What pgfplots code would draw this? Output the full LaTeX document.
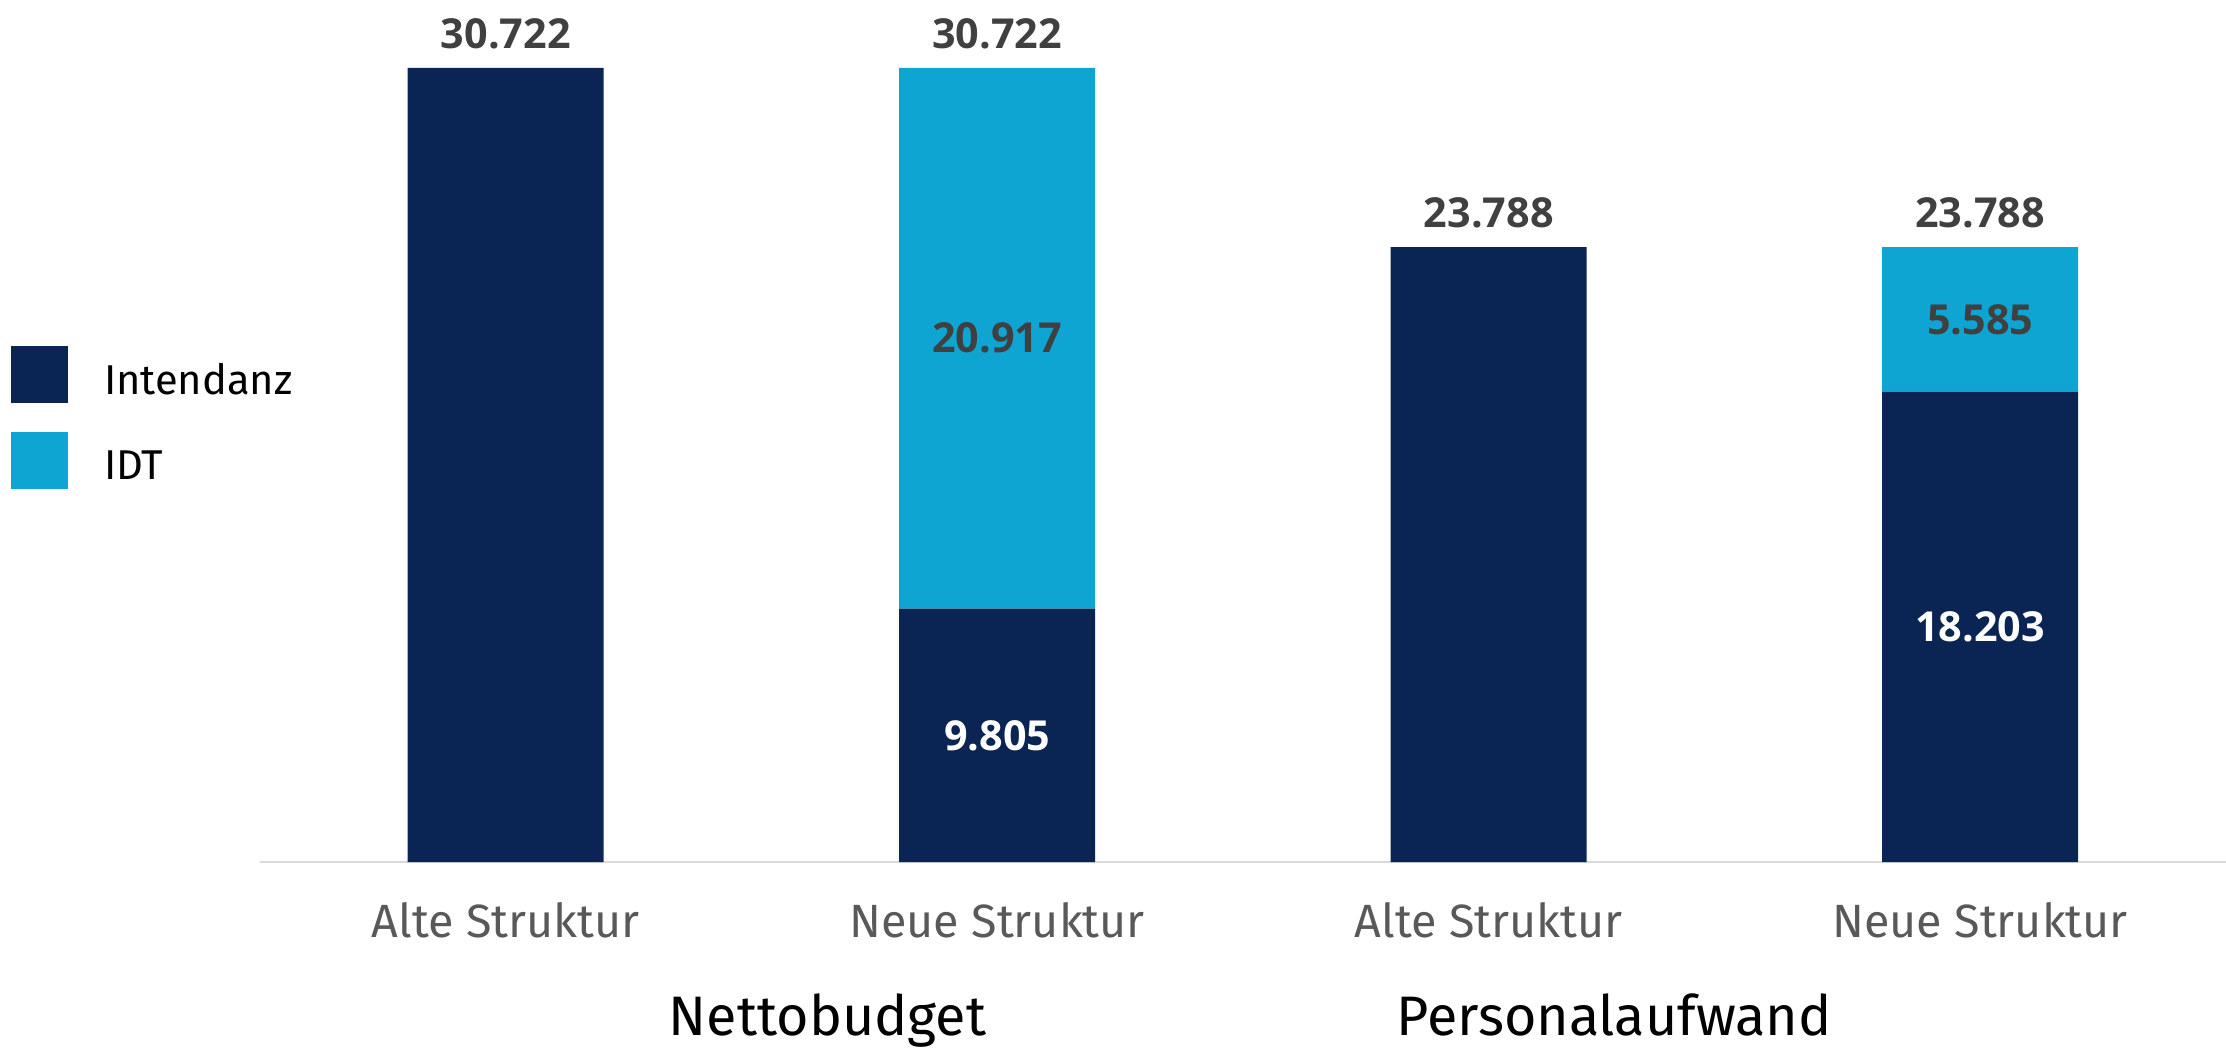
\documentclass[border=0pt]{standalone}
\usepackage{fontspec}
\setmainfont{Fira Sans}
\newfontfamily\numfont{Open Sans}
\usepackage{pgfplots}
\pgfplotsset{compat=1.18}
\definecolor{navy}{HTML}{0A2453}
\definecolor{cyanb}{HTML}{0EA5D3}
\definecolor{valgray}{HTML}{404040}
\definecolor{tickgray}{HTML}{595959}
\definecolor{axgray}{HTML}{D9D9D9}
\begin{document}
\begin{tikzpicture}
\useasboundingbox (-78pt,-55.8pt) rectangle (589.8pt,258.6pt);
\begin{axis}[
 at={(0,0)}, anchor=south west, scale only axis, width=589.8pt, height=258.6pt,
 ybar stacked, bar width=58.8pt,
 xmin=-0.5, xmax=3.5, ymin=0, ymax=33.35,
 axis x line=bottom, axis y line=none, axis line style={axgray, line width=0.6pt, -},
 xtick={0,1,2,3}, xticklabels={Alte Struktur, Neue Struktur, Alte Struktur, Neue Struktur},
 major tick length=0pt, ytick=\empty,
 xticklabel style={font=\fontsize{14}{17}\selectfont, text=tickgray, anchor=base, yshift=-22.5pt},
 clip=false,
 legend style={at={(-0.12665,0.5986)}, anchor=north west, draw=none, fill=none, inner sep=0pt, outer sep=0pt, row sep=8.6pt, column sep=10.8pt, font=\fontsize{12.5}{15}\selectfont, nodes={inner sep=0pt}},
 legend cell align=left,
 legend image code/.code={\fill[#1] (0pt,-6.35pt) rectangle (17.1pt,10.75pt);},
]
\addplot[fill=navy, draw=none] coordinates {(0,30.722) (1,9.805) (2,23.788) (3,18.203)};
\addlegendentry{Intendanz}
\addplot[fill=cyanb, draw=none] coordinates {(0,0) (1,20.917) (2,0) (3,5.585)};
\addlegendentry{IDT}
\coordinate (t0) at (axis cs:0,30.722);
\coordinate (t1) at (axis cs:1,30.722);
\coordinate (t2) at (axis cs:2,23.788);
\coordinate (t3) at (axis cs:3,23.788);
\coordinate (m1a) at (axis cs:1,4.9025);
\coordinate (m1b) at (axis cs:1,20.2635);
\coordinate (m3a) at (axis cs:3,9.1015);
\coordinate (m3b) at (axis cs:3,20.9955);
\coordinate (g1) at (axis cs:0.655,0);
\coordinate (g2) at (axis cs:2.255,0);
\end{axis}
\tikzset{val/.style={font=\numfont\bfseries\fontsize{12.4}{15}\selectfont, inner sep=0pt}}
\node[val, text=valgray, anchor=base, yshift=5.9pt] at (t0) {30.722};
\node[val, text=valgray, anchor=base, yshift=5.9pt] at (t1) {30.722};
\node[val, text=valgray, anchor=base, yshift=5.9pt] at (t2) {23.788};
\node[val, text=valgray, anchor=base, yshift=5.9pt] at (t3) {23.788};
\node[val, text=white] at (m1a) {9.805};
\node[val, text=valgray] at (m1b) {20.917};
\node[val, text=white] at (m3a) {18.203};
\node[val, text=valgray] at (m3b) {5.585};
\node[font=\fontsize{16.7}{20}\selectfont, anchor=base, yshift=-52pt] at (g1) {Nettobudget};
\node[font=\fontsize{16.7}{20}\selectfont, anchor=base, yshift=-52pt] at (g2) {Personalaufwand};
\end{tikzpicture}
\end{document}
